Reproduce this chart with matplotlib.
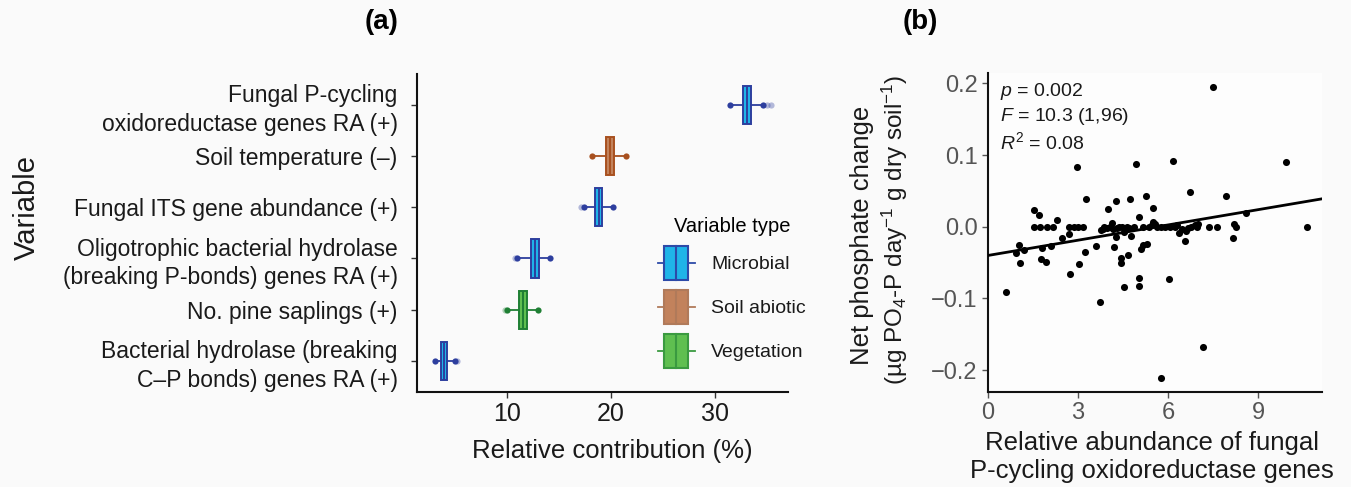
import numpy as np
import matplotlib
matplotlib.use('Agg')
import matplotlib.pyplot as plt
from matplotlib.patches import Rectangle
from matplotlib.lines import Line2D
from matplotlib.legend_handler import HandlerBase

plt.rcParams['font.family'] = ['Liberation Sans', 'DejaVu Sans']
plt.rcParams['mathtext.fontset'] = 'custom'
plt.rcParams['mathtext.rm'] = 'Liberation Sans'
plt.rcParams['mathtext.it'] = 'Liberation Sans:italic'

# ---- panel (a) data: relative contribution boxplots (top -> bottom) ----
variables = ['Fungal P-cycling\noxidoreductase genes RA (+)',
             'Soil temperature (\u2013)',
             'Fungal ITS gene abundance (+)',
             'Oligotrophic bacterial hydrolase\n(breaking P-bonds) genes RA (+)',
             'No. pine saplings (+)',
             'Bacterial hydrolase (breaking\nC\u2013P bonds) genes RA (+)']
var_type = ['Microbial', 'Soil abiotic', 'Microbial', 'Microbial', 'Vegetation', 'Microbial']
q1 = [32.7, 19.5, 18.5, 12.3, 11.2, 3.7]
med = [33.1, 19.9, 18.85, 12.7, 11.55, 4.0]
q3 = [33.5, 20.3, 19.2, 13.1, 12.0, 4.3]
whislo = [31.5, 18.2, 17.4, 11.0, 10.0, 3.1]
whishi = [34.6, 21.5, 20.2, 14.2, 13.0, 5.0]
pale_out = [[35.0, 35.4], [], [17.1], [10.8], [9.8], [5.25]]

type_fill = {'Microbial': '#1fb4e8', 'Soil abiotic': '#c2825c', 'Vegetation': '#5fbf50'}
type_edge = {'Microbial': '#2d3e9e', 'Soil abiotic': '#a8501f', 'Vegetation': '#1f7f34'}
legend_edge = {'Microbial': '#2d4aa8', 'Soil abiotic': '#b07a5a', 'Vegetation': '#3a9a40'}

# ---- panel (b) data: scatter ----
ra = [0.60, 0.93, 1.02, 1.07, 1.21, 1.52, 1.70, 1.52, 1.73, 1.79, 1.78, 1.92, 1.98, 2.16,
      2.09, 2.30, 2.48, 2.71, 2.73, 2.71, 2.87, 3.01, 3.16, 2.96, 3.03, 3.26, 3.22, 3.59,
      3.73, 3.77, 3.88, 3.97, 4.00, 4.12, 4.26, 4.21, 4.28, 4.42, 4.42, 4.53, 4.67, 4.74,
      4.78, 4.93, 5.04, 5.02, 5.02, 5.10, 5.18, 5.30, 5.27, 5.49, 5.51, 6.17, 6.02, 6.37,
      6.57, 6.60, 6.74, 6.76, 6.96, 7.01, 7.36, 7.62, 7.49, 7.17, 5.78, 7.94, 8.17, 8.21,
      8.26, 8.60, 9.94, 10.62, 4.08, 4.18, 4.35, 4.48, 4.58, 4.62, 4.70, 4.88, 5.15, 5.35,
      5.45, 5.62, 5.75, 5.90, 6.05, 6.22, 6.30, 6.47, 6.88, 4.52, 3.83, 5.55, 4.30, 6.65]
dp = [-0.091, -0.036, -0.026, -0.051, -0.032, 0.023, 0.016, 0.000, 0.000, -0.030, -0.045,
      -0.049, 0.000, 0.000, -0.027, 0.010, -0.016, -0.010, -0.066, 0.000, 0.000, 0.000,
      0.000, 0.083, -0.052, 0.039, -0.035, -0.027, -0.105, -0.004, 0.000, -0.002, 0.025,
      0.005, 0.036, -0.028, -0.014, -0.044, -0.051, -0.084, -0.040, 0.039, -0.013, 0.087,
      0.013, -0.071, -0.082, -0.031, -0.025, -0.024, 0.043, 0.026, 0.007, 0.092, -0.073,
      -0.008, -0.020, -0.006, 0.048, 0.000, 0.000, 0.004, 0.000, 0.000, 0.195, -0.167,
      -0.211, 0.043, -0.015, 0.004, 0.000, 0.019, 0.090, 0.000, 0.000, -0.003, 0.000,
      0.000, -0.004, 0.000, -0.002, 0.000, 0.000, 0.000, 0.002, 0.000, 0.000, 0.000,
      0.000, 0.000, 0.002, -0.003, 0.003, -0.007, -0.003, 0.004, -0.002, -0.002]
fit_x = [0.0, 11.13]
fit_y = [-0.040, 0.039]


class BoxKey:
    def __init__(self, fc, ec):
        self.fc = fc
        self.ec = ec


class BoxHandler(HandlerBase):
    def create_artists(self, legend, orig_handle, xdescent, ydescent, width, height,
                       fontsize, trans):
        bw = width * 0.66
        x0 = -xdescent + (width - bw) / 2
        y0 = -ydescent
        cy = y0 + height / 2
        wl = Line2D([-xdescent, -xdescent + width], [cy, cy], color=orig_handle.ec,
                    lw=1.3, transform=trans)
        r = Rectangle((x0, y0), bw, height, facecolor=orig_handle.fc,
                      edgecolor=orig_handle.ec, lw=1.5, transform=trans)
        m = Line2D([x0 + bw / 2] * 2, [y0, y0 + height], color=orig_handle.ec,
                   lw=1.5, transform=trans)
        return [wl, r, m]


fig = plt.figure(figsize=(13.51, 4.87), dpi=100, facecolor='#fafafa')

# ---------------- panel (a) ----------------
ax1 = fig.add_axes([0.3087, 0.1957, 0.2744, 0.6523], facecolor='#fafafa')
n = len(variables)
pos = np.arange(n, 0, -1)
for i in range(n):
    t = var_type[i]
    st = [dict(med=med[i], q1=q1[i], q3=q3[i], whislo=whislo[i], whishi=whishi[i], fliers=[])]
    ax1.bxp(st, positions=[pos[i]], widths=0.75, orientation='horizontal',
            patch_artist=True, showcaps=False,
            boxprops=dict(facecolor=type_fill[t], edgecolor=type_edge[t], lw=1.4),
            medianprops=dict(color=type_edge[t], lw=1.4),
            whiskerprops=dict(color=type_edge[t], lw=1.3))
    ax1.scatter([whislo[i], whishi[i]], [pos[i], pos[i]], s=20, color=type_edge[t],
                zorder=3, lw=0)
    if pale_out[i]:
        ax1.scatter(pale_out[i], [pos[i]] * len(pale_out[i]), s=20, color=type_edge[t],
                    alpha=0.35, zorder=3, lw=0)

ax1.set_xlim(1.4, 37.0)
ax1.set_ylim(0.4, 6.6)
ax1.set_xticks([10, 20, 30])
ax1.set_yticks(pos)
ax1.set_yticklabels(variables, fontsize=16.5, color='#1a1a1a', linespacing=1.3)
ax1.tick_params(axis='x', labelsize=18, colors='#333333', length=4, width=1)
ax1.tick_params(axis='y', length=4, width=1, colors='#333333', pad=10)
for lab in ax1.get_yticklabels():
    lab.set_color('#1a1a1a')
for lab in ax1.get_xticklabels():
    lab.set_color('#1a1a1a')
for s in ['top', 'right']:
    ax1.spines[s].set_visible(False)
for s in ['left', 'bottom']:
    ax1.spines[s].set_linewidth(1.5)
    ax1.spines[s].set_color('#111111')

fig.text(612 / 1351, 1 - 451 / 487, 'Relative contribution (%)', fontsize=18.5,
         ha='center', va='center', color='#1a1a1a')
fig.text(27 / 1351, 1 - 208 / 487, 'Variable', fontsize=21, rotation=90,
         ha='center', va='center', color='#1a1a1a')
fig.text(382 / 1351, 1 - 22 / 487, '(a)', fontsize=20, fontweight='bold',
         ha='center', va='center')

types = ['Microbial', 'Soil abiotic', 'Vegetation']
handles = [BoxKey(type_fill[t], legend_edge[t]) for t in types]
leg = ax1.legend(handles, types, handler_map={BoxKey: BoxHandler()},
                 title='Variable type', fontsize=14, title_fontsize=14.5,
                 frameon=False, handlelength=1.9, handleheight=2.32,
                 labelspacing=0.52, handletextpad=0.85,
                 loc='upper left', bbox_to_anchor=(648 / 1351, 1 - 207 / 487),
                 bbox_transform=fig.transFigure, borderpad=0)
for txt in leg.get_texts():
    txt.set_color('#1a1a1a')

# ---------------- panel (b) ----------------
ax2 = fig.add_axes([0.7313, 0.1957, 0.2473, 0.6543], facecolor='#fdfdfd')
ax2.scatter(ra, dp, s=26, color='black', lw=0, zorder=3)
ax2.plot(fit_x, fit_y, color='black', lw=2.0, zorder=4)
ax2.set_xlim(0, 11.13)
ax2.set_ylim(-0.230, 0.2144)
ax2.set_xticks([0, 3, 6, 9])
ax2.set_yticks([-0.2, -0.1, 0.0, 0.1, 0.2])
ax2.set_yticklabels(['\u22120.2', '\u22120.1', '0.0', '0.1', '0.2'])
ax2.tick_params(labelsize=17, colors='#555555', length=4, width=1)
for s in ['top', 'right']:
    ax2.spines[s].set_visible(False)
for s in ['left', 'bottom']:
    ax2.spines[s].set_linewidth(1.5)
    ax2.spines[s].set_color('#111111')

ax2.text(0.035, 0.975, '$\\mathit{p}$ = 0.002\n$\\mathit{F}$ = 10.3 (1,96)\n$\\mathit{R}^2$ = 0.08',
         transform=ax2.transAxes, fontsize=14, va='top', ha='left',
         linespacing=1.25, color='#1a1a1a')

fig.text(1152 / 1351, 1 - 457 / 487,
         'Relative abundance of fungal\nP-cycling oxidoreductase genes',
         fontsize=18.5, ha='center', va='center', linespacing=1.2, color='#1a1a1a')
fig.text(862 / 1351, 1 - 235 / 487, 'Net phosphate change',
         fontsize=18.5, rotation=90, ha='center', va='center', color='#1a1a1a')
fig.text(895 / 1351, 1 - 230 / 487,
         '(\u00b5g PO$_4$-P day$^{\u22121}$ g dry soil$^{\u22121}$)',
         fontsize=17.5, rotation=90, ha='center', va='center', color='#1a1a1a')
fig.text(920 / 1351, 1 - 22 / 487, '(b)', fontsize=20, fontweight='bold',
         ha='center', va='center')

fig.savefig('out.png', dpi=100, facecolor=fig.get_facecolor())
